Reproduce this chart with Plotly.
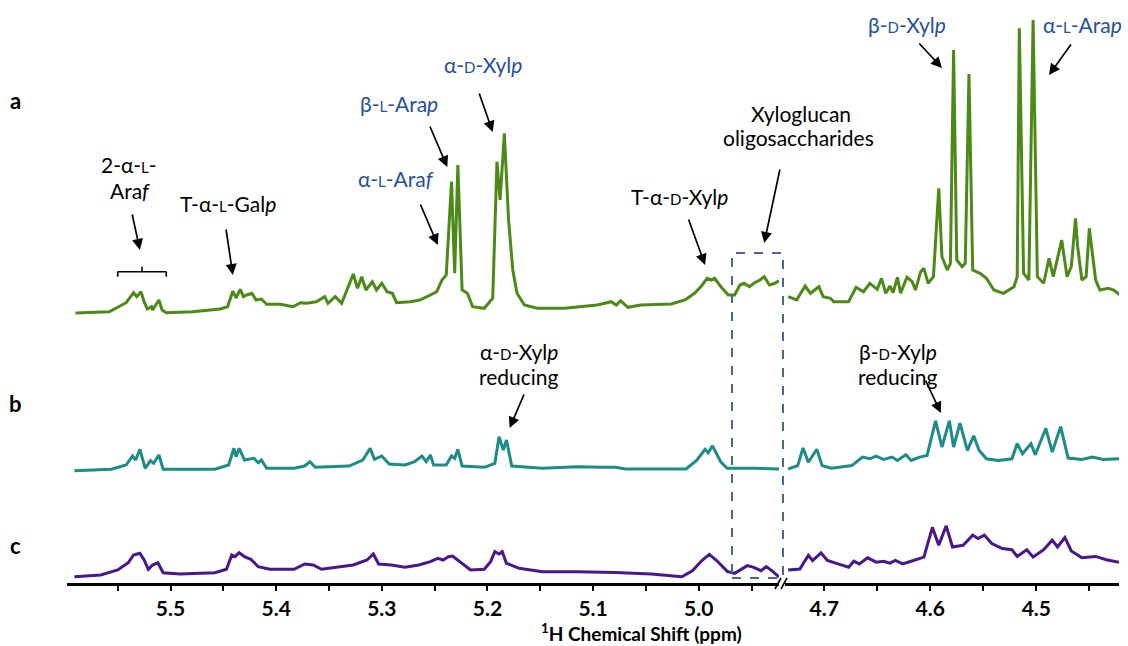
import plotly.graph_objects as go

# ---------------- data (ppm, intensity in arbitrary units above each trace's baseline) ----------------
a_left_ppm = [5.590,5.558,5.542,5.535,5.532,5.528,5.525,5.522,5.518,5.517,5.511,5.508,5.504,5.479,5.453,5.446,5.441,5.438,5.434,5.431,5.428,5.423,5.419,5.414,5.409,5.396,5.384,5.377,5.371,5.362,5.354,5.351,5.344,5.338,5.327,5.323,5.319,5.315,5.309,5.305,5.300,5.295,5.290,5.286,5.273,5.264,5.254,5.248,5.243,5.239,5.234,5.231,5.228,5.224,5.219,5.214,5.203,5.195,5.191,5.188,5.184,5.180,5.176,5.172,5.165,5.153,5.127,5.096,5.083,5.078,5.074,5.067,5.055,5.026,5.013,5.004,4.998,4.992,4.988,4.985,4.979,4.972,4.966,4.961,4.957,4.952,4.947,4.942,4.938,4.933,4.928,4.924]
a_left_int = [0,1.3,10.3,20.3,16.3,21.3,11.3,4,6.3,3,13,3,0.3,1.3,4,6.3,22,15,23.7,16.3,18,19.7,13,14,8.7,8.7,6.3,10.3,9.7,11.3,16.3,9.7,16.3,9.7,39,24.7,36.3,23,31.3,23,29.7,21.3,19.7,10.3,11.3,13,18,21.3,33,38,131.3,39.7,148,23,19.7,6.3,4.7,14.7,151.3,113,179.7,93,43,19.7,8,4.7,4.7,8,11.3,8,12.3,5.7,8,9,13,19.7,26.3,34.7,33,34.7,26.3,18,18,28,29.7,26.3,30.3,33,36.3,28,29.7,32.3]
a_right_ppm = [4.734,4.726,4.718,4.713,4.705,4.701,4.694,4.691,4.677,4.670,4.663,4.657,4.650,4.646,4.642,4.638,4.635,4.631,4.628,4.622,4.617,4.614,4.609,4.606,4.602,4.597,4.592,4.589,4.584,4.581,4.578,4.575,4.570,4.567,4.5635,4.560,4.553,4.547,4.540,4.531,4.521,4.518,4.516,4.512,4.507,4.503,4.499,4.493,4.488,4.484,4.476,4.471,4.467,4.463,4.461,4.457,4.453,4.450,4.4475,4.444,4.440,4.432,4.427,4.421]
a_right_int = [16.3,13,27,19.7,26.3,16.3,14.7,11.3,11.3,25.7,21.3,29.7,23.7,34.7,19.7,27,20.3,35.7,19.7,35.7,31.3,23,41.3,44.7,29.7,36.3,124.7,56.3,43,49.7,263,53,46.3,49.7,239,43,39.7,34.7,23,19.7,26.3,36.3,284.7,39.7,33,293,36.3,29.7,54.7,36.3,73,36.3,46.3,94.7,66.3,33,36.3,84.7,63,33,23,24.7,23,18]

b_left_ppm = [5.591,5.556,5.542,5.536,5.533,5.529,5.524,5.519,5.516,5.511,5.507,5.458,5.445,5.440,5.438,5.435,5.430,5.421,5.417,5.414,5.409,5.383,5.373,5.368,5.363,5.331,5.318,5.311,5.307,5.300,5.293,5.278,5.269,5.262,5.258,5.254,5.251,5.239,5.234,5.231,5.228,5.224,5.203,5.193,5.189,5.185,5.182,5.177,5.148,5.115,5.092,5.079,5.069,5.012,5.002,4.994,4.991,4.987,4.979,4.973,4.946,4.924]
b_left_int = [1.3,2.7,7,16,12,22.7,3.7,11.3,8.7,17,2.7,2.7,7,23.7,15.3,23.7,12,13.7,9.3,12,3.7,3.7,6,10.3,4.7,6,12,23.7,12.7,16,8,7,10.3,16,10.3,17,7,7,16,13.7,22.7,6,4.7,8.7,35.3,22,32,6,3.7,5.3,4.7,4.7,3,3,11.5,22.7,19.3,26.1,9.8,3.7,3.7,3]
b_right_ppm = [4.734,4.725,4.720,4.715,4.707,4.702,4.693,4.674,4.664,4.657,4.651,4.644,4.636,4.631,4.623,4.618,4.610,4.603,4.595,4.589,4.582,4.578,4.572,4.565,4.559,4.554,4.547,4.536,4.523,4.518,4.513,4.509,4.505,4.501,4.491,4.485,4.477,4.470,4.457,4.447,4.437,4.422]
b_right_int = [3,6.4,24,9.8,22.7,6.4,3.7,6.4,14.9,13.2,15.9,12.5,14.9,11.5,17.3,11.5,14.9,16.6,51.2,25,51.2,25,48.8,21.7,36.2,21.7,13.2,11.5,13.2,28.4,18.3,23.4,28.4,17.3,43.7,20,45.4,13.9,12.5,14.9,12.5,13.2]

c_left_ppm = [5.591,5.566,5.550,5.540,5.535,5.529,5.525,5.521,5.517,5.512,5.507,5.491,5.458,5.447,5.442,5.439,5.435,5.430,5.424,5.417,5.406,5.383,5.373,5.365,5.357,5.327,5.314,5.308,5.303,5.291,5.278,5.265,5.254,5.247,5.242,5.237,5.233,5.226,5.216,5.203,5.197,5.193,5.189,5.186,5.182,5.170,5.148,5.115,5.079,5.045,5.016,5.006,4.997,4.990,4.983,4.973,4.966,4.954,4.948,4.941,4.936,4.930,4.924]
c_left_int = [1.3,3,8,15.3,23,24.7,18,8.7,13,15.3,5.3,4,5.3,8.7,23,21.3,25.3,21.3,18.7,11.3,8.7,8.7,14,13,8.7,13,18,24,14,13,10.7,13,16.3,19.7,18,21.3,22,16.3,8,8.7,16.3,26.3,24,26.3,14.7,9.7,6.3,6.3,5.6,4,1.2,7.3,17.5,23.6,17.5,6.6,4.6,12.4,10.7,7.3,11.4,6.6,1]
c_right_ppm = [4.734,4.723,4.715,4.711,4.703,4.697,4.687,4.677,4.672,4.667,4.659,4.651,4.644,4.638,4.633,4.626,4.618,4.606,4.598,4.592,4.585,4.579,4.569,4.560,4.555,4.549,4.542,4.532,4.523,4.518,4.509,4.503,4.493,4.485,4.480,4.473,4.467,4.457,4.444,4.434,4.422]
c_right_int = [8,9,22.6,17.5,25,17.5,14.1,10.7,16.8,14.1,20.2,15.8,16.8,14.8,17.5,14.1,16.8,20.9,50.7,32.7,52.1,31,32.7,42.9,39.5,42.9,34.4,29.4,28.3,21.6,28.3,20.9,28.3,37.8,31,40.5,27,20.2,21.6,18.2,15.8]

spectra = ["a", "b", "c"]
offsets = {"a": 270, "b": 111, "c": 5}
colors = {"a": "#4c8a17", "b": "#1b8c86", "c": "#4a168c"}
series = {
    "a": (a_left_ppm, a_left_int, a_right_ppm, a_right_int),
    "b": (b_left_ppm, b_left_int, b_right_ppm, b_right_int),
    "c": (c_left_ppm, c_left_int, c_right_ppm, c_right_int),
}

W, H = 1128, 646
FONT = "Lato"
BLUE = "#24509c"

def pxx(v):
    return v / W

fig = go.Figure()
for s in spectra:
    lp, li, rp, ri = series[s]
    off = offsets[s]
    fig.add_trace(go.Scatter(x=lp, y=[v + off for v in li], xaxis="x", yaxis="y",
                             mode="lines", line=dict(color=colors[s], width=3), hoverinfo="skip"))
    fig.add_trace(go.Scatter(x=rp, y=[v + off for v in ri], xaxis="x2", yaxis="y",
                             mode="lines", line=dict(color=colors[s], width=3), hoverinfo="skip"))

axis_style = dict(
    showgrid=False, zeroline=False, showline=True, linecolor="black", linewidth=2.5,
    ticks="outside", ticklen=5, tickwidth=2, tickcolor="black", dtick=0.1, tick0=5.0,
    tickformat=".1f", tickfont=dict(family=FONT, size=21, color="black", weight="bold"),
    minor=dict(dtick=0.05, tick0=5.0, ticks="outside", ticklen=5, tickwidth=2, tickcolor="black", showgrid=False),
    anchor="y", fixedrange=True, automargin=False,
)
fig.update_layout(
    width=W, height=H, margin=dict(l=0, r=0, t=0, b=63, autoexpand=False),
    plot_bgcolor="white", paper_bgcolor="white", showlegend=False,
    xaxis=dict(domain=[pxx(67), pxx(779)], range=[5.598, 4.924], **axis_style),
    xaxis2=dict(domain=[pxx(785), pxx(1119)], range=[4.737, 4.422], **axis_style),
    yaxis=dict(range=[0, 583], visible=False, domain=[0, 1], fixedrange=True, automargin=False),
)

sc = lambda t: '<span style="font-size:15px">' + t + '</span>'

texts = [
    # text, xref, x, y, color
    ("2-α-" + sc("L") + "-", "x", 5.539, 419, "black"),
    ("Ara<i>f</i>", "x", 5.538, 393, "black"),
    ("T-α-" + sc("L") + "-Gal<i>p</i>", "x", 5.446, 380, "black"),
    ("α-" + sc("L") + "-Ara<i>f</i>", "x", 5.287, 405, BLUE),
    ("β-" + sc("L") + "-Ara<i>p</i>", "x", 5.284, 480, BLUE),
    ("α-" + sc("D") + "-Xyl<i>p</i>", "x", 5.204, 519, BLUE),
    ("T-α-" + sc("D") + "-Xyl<i>p</i>", "x", 5.018, 387, "black"),
    ("Xyloglucan", "paper", pxx(801), 470, "black"),
    ("oligosaccharides", "paper", pxx(798), 446, "black"),
    ("β-" + sc("D") + "-Xyl<i>p</i>", "x2", 4.622, 559, BLUE),
    ("α-" + sc("L") + "-Ara<i>p</i>", "x2", 4.456, 559, BLUE),
    ("α-" + sc("D") + "-Xyl<i>p</i>", "x", 5.170, 232, "black"),
    ("reducing", "x", 5.170, 207, "black"),
    ("β-" + sc("D") + "-Xyl<i>p</i>", "x2", 4.630, 232, "black"),
    ("reducing", "x2", 4.630, 207, "black"),
]
for t, xr, x, y, col in texts:
    fig.add_annotation(text=t, xref=xr, yref="y", x=x, y=y, showarrow=False,
                       xanchor="center", yanchor="middle",
                       font=dict(family=FONT, size=21, color=col))

arrows = [
    # xref, head x, head y, ax, ay
    ("x", 5.529, 333, -8, -37),
    ("x", 5.441, 308, -7, -47),
    ("x", 5.247, 338, -18, -42),
    ("x", 5.238, 416, -18, -42),
    ("x", 5.195, 451, -14, -40),
    ("x", 4.994, 318, -17, -47),
    ("x", 4.938, 340, 16, -75),
    ("x2", 4.589, 515, -24, -26),
    ("x2", 4.488, 508, 23, -32),
    ("x", 5.179, 155, 15, -35),
    ("x2", 4.590, 170, -16, -34),
]
for xr, x, y, ax, ay in arrows:
    fig.add_annotation(text="", xref=xr, yref="y", x=x, y=y, ax=ax, ay=ay,
                       showarrow=True, arrowhead=2, arrowsize=1.3, arrowwidth=1.7,
                       arrowcolor="black", standoff=0, startstandoff=0)

# labels a, b, c
for lab, yy in [("a", 483), ("b", 180), ("c", 38)]:
    fig.add_annotation(text="<b>" + lab + "</b>", xref="paper", yref="y", x=pxx(15), y=yy,
                       showarrow=False, xanchor="center", yanchor="middle",
                       font=dict(family=FONT, size=22, color="black"))

# axis title
fig.add_annotation(text="<b><sup>1</sup>H Chemical Shift (ppm)</b>", xref="paper", yref="paper",
                   x=pxx(641), y=-49 / 583, showarrow=False, xanchor="center", yanchor="middle",
                   font=dict(family=FONT, size=19, color="black"))

# bracket for 2-α-L-Araf
for x0, y0, x1, y1 in [(5.550, 311.3, 5.504, 311.3), (5.550, 311.3, 5.550, 306.3),
                       (5.504, 311.3, 5.504, 306.3), (5.527, 311.3, 5.527, 316.3)]:
    fig.add_shape(type="line", xref="x", yref="y", x0=x0, y0=y0, x1=x1, y1=y1,
                  line=dict(color="black", width=1.6))

# dashed box around xyloglucan oligosaccharides
fig.add_shape(type="rect", xref="paper", yref="y", x0=pxx(732), x1=pxx(783), y0=5, y1=330,
              line=dict(color="#44689a", width=2, dash="dash"), layer="above")

# axis break marks
for x0 in (775, 781):
    fig.add_shape(type="line", xref="paper", yref="paper", x0=pxx(x0), x1=pxx(x0 + 6),
                  y0=-6 / 583, y1=5 / 583, line=dict(color="black", width=1.6))

fig.write_html("out.html", config={"displayModeBar": False},
               post_script="document.body.style.margin='0';")
